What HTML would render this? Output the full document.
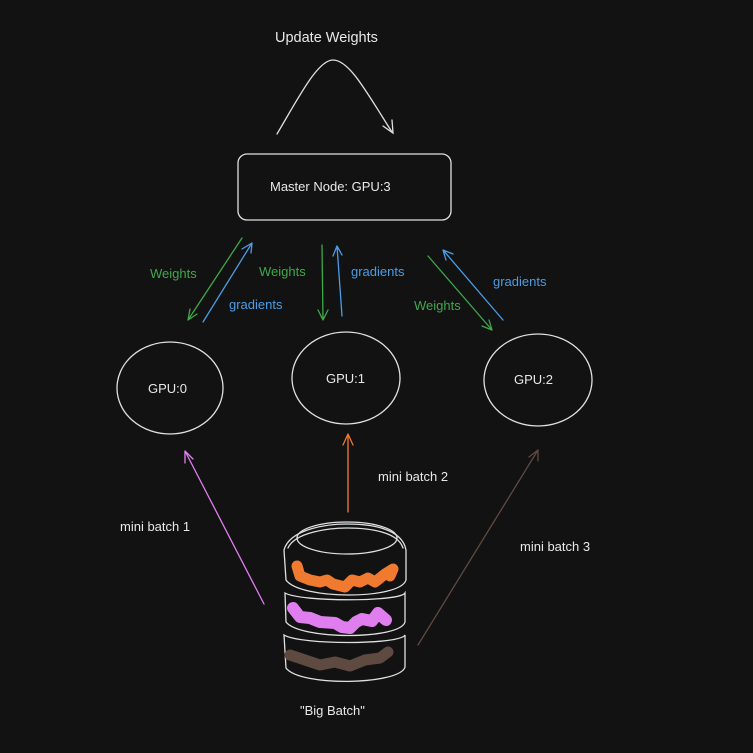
<!DOCTYPE html>
<html><head><style>
html,body{margin:0;padding:0;background:#121212;}
svg{display:block}
text{font-family:"Liberation Sans",sans-serif;font-size:13px;}
</style></head><body>
<svg width="753" height="753" viewBox="0 0 753 753">
<rect width="753" height="753" fill="#121212"/>
<g fill="none" stroke="#e0e0e0" stroke-width="1.3" stroke-linecap="round">
<path d="M277 134 C300 95 318 60 333 60 C350 60 368 95 392 132"/>
<path d="M383 126 L393 133 L392 120"/>
<rect x="238" y="154" width="213" height="66" rx="9"/>
<ellipse cx="170" cy="388" rx="53" ry="46"/>
<ellipse cx="346" cy="378" rx="54" ry="46"/>
<ellipse cx="538" cy="380" rx="54" ry="46"/>
<path d="M284 550 C290 528 330 524 347 524 C370 524 402 528 406 550 L406 580 C400 600 300 600 286 580 Z"/>
<path d="M288 548 C295 532 330 528 347 528 C370 528 398 532 403 548"/>
<ellipse cx="347" cy="538" rx="50" ry="16"/>
<path d="M285 593 C300 602 400 602 405 593 L405 622 C400 640 300 640 286 622 Z"/>
<path d="M284 635 C300 645 400 645 405 635 L405 667 C400 685 300 687 286 668 Z"/>
</g>
<g fill="none" stroke-linecap="round" stroke-linejoin="round">
<path d="M297 566 L300 576 L310 580 L320 582 L327 580 L333 584 L345 587 L352 580 L360 582 L368 578 L375 582 L385 574 L393 569 L390 576" stroke="#f07a30" stroke-width="11"/>
<path d="M293 608 L300 617 L310 618 L320 622 L335 623 L342 627 L350 628 L356 622 L362 619 L372 621 L378 613 L386 620" stroke="#e07ef0" stroke-width="12"/>
<path d="M290 655 L305 660 L320 665 L335 662 L350 666 L365 660 L380 658 L388 652" stroke="#5e4a40" stroke-width="11"/>
</g>
<g fill="none" stroke-width="1.3" stroke-linecap="round">
<path d="M242 238 L188 320 M188 320 L190 309 M188 320 L197 314" stroke="#3fa84a"/>
<path d="M203 322 L252 243 M252 243 L242 249 M252 243 L251 253" stroke="#4a9de6"/>
<path d="M322 245 L323 320 M323 320 L318 310 M323 320 L328 310" stroke="#3fa84a"/>
<path d="M342 316 L337 246 M337 246 L333 256 M337 246 L342 255" stroke="#4a9de6"/>
<path d="M428 256 L492 330 M492 330 L482 326 M492 330 L489 320" stroke="#3fa84a"/>
<path d="M503 320 L443 250 M443 250 L446 260 M443 250 L453 254" stroke="#4a9de6"/>
<path d="M264 604 L185 451 M185 451 L185 463 M185 451 L193 459" stroke="#e07ef0"/>
<path d="M348 512 L348 434 M348 434 L343 445 M348 434 L353 445" stroke="#f07a30"/>
<path d="M418 645 L538 450 M538 450 L529 457 M538 450 L538 461" stroke="#5e4a40"/>
</g>
<g fill="#e8e8e8">
<text x="275" y="42" style="font-size:14.5px">Update Weights</text>
<text x="270" y="191">Master Node: GPU:3</text>
<text x="148" y="393">GPU:0</text>
<text x="326" y="383">GPU:1</text>
<text x="514" y="384">GPU:2</text>
<text x="378" y="481">mini batch 2</text>
<text x="120" y="531">mini batch 1</text>
<text x="520" y="551">mini batch 3</text>
<text x="300" y="715">"Big Batch"</text>
</g>
<g fill="#3fa84a">
<text x="150" y="278">Weights</text>
<text x="259" y="276">Weights</text>
<text x="414" y="310">Weights</text>
</g>
<g fill="#4a9de6">
<text x="229" y="309">gradients</text>
<text x="351" y="276">gradients</text>
<text x="493" y="286">gradients</text>
</g>
</svg>
</body></html>
